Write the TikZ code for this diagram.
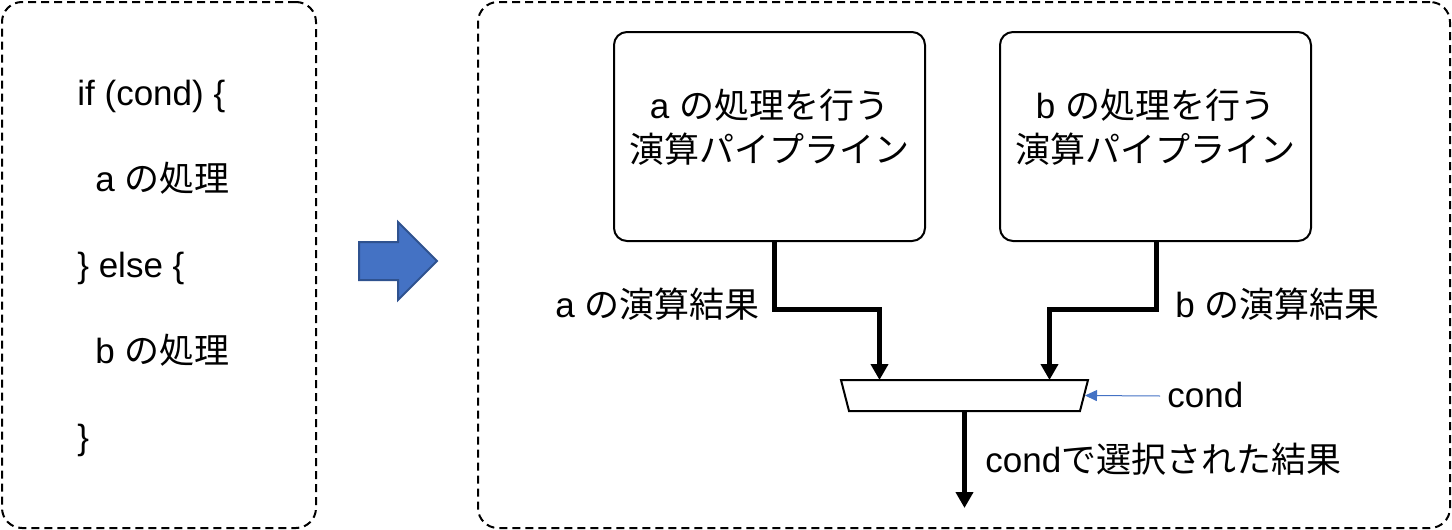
\documentclass[tikz,border=0pt]{standalone}
\usepackage{fontspec}
\setmainfont{Liberation Sans}
\newfontfamily\jpfont{Noto Sans CJK JP}
\newcommand{\J}[1]{{\jpfont #1}}
\usetikzlibrary{arrows.meta}
\definecolor{arrowfill}{HTML}{4472C4}
\definecolor{arrowedge}{HTML}{2F528F}
\begin{document}
\begin{tikzpicture}[x=0.5pt,y=-0.5pt,
  txt/.style={font=\fontsize{17.5}{22}\selectfont, inner sep=0pt},
  frame/.style={draw, dash pattern=on 4pt off 2.5pt, line width=1pt, rounded corners=10pt, minimum height=263pt},
  stage/.style={draw, line width=1pt, rounded corners=6.5pt, minimum width=155.5pt, minimum height=104.5pt},
  flow/.style={line width=2.5pt, -{Triangle[width=8.5pt,length=8pt]}},
  condarrow/.style={draw=arrowfill, line width=0.5pt, -{Triangle[width=5.5pt,length=6pt]}},
  muxbox/.style={draw=none, minimum width=123.5pt, minimum height=15.5pt, inner sep=0pt, outer sep=0pt}
]
\useasboundingbox (0,0) rectangle (1452,530);

% frames
\node[frame, minimum width=157pt] (leftframe) at (159,265) {};
\node[frame, minimum width=486pt] (rightframe) at (964,265) {};

% code
\node[txt, anchor=base west] (l1) at (77,105) {if (cond) \{};
\node[txt, anchor=base west] (l2) at (95,191) {a \J{の処理}};
\node[txt, anchor=base west] (l3) at (77,277) {\} else \{};
\node[txt, anchor=base west] (l4) at (95,363) {b \J{の処理}};
\node[txt, anchor=base west] (l5) at (77,449) {\}};

% block arrow
\filldraw[fill=arrowfill, draw=arrowedge, line width=1pt]
  (359,242) -- (398,242) -- (398,222) -- (437,261) -- (398,300) -- (398,280) -- (359,280) -- cycle;

% pipelines
\node[stage] (pa) at (769.5,136.5) {};
\node[txt, align=center] (pat) at ([yshift=4.5pt]pa.center) {a \J{の処理を行う}\\\J{演算パイプライン}};
\node[stage] (pb) at (1155.5,136.5) {};
\node[txt, align=center] (pbt) at ([yshift=4.5pt]pb.center) {b \J{の処理を行う}\\\J{演算パイプライン}};

% mux
\node[muxbox] (mux) at (964.5,395.5) {};
\draw[line width=1pt, line join=miter] (mux.north west) -- (mux.north east) -- ([xshift=-4pt]mux.south east) -- ([xshift=4pt]mux.south west) -- cycle;

% connectors
\draw[flow] ([xshift=2.5pt]pa.south) -- ++(0,67) -| ([xshift=-42.5pt]mux.north);
\draw[flow] ([xshift=0.5pt]pb.south) -- ++(0,67) -| ([xshift=42.5pt]mux.north);
\coordinate (out) at (964.5,508);
\draw[flow] (mux.south) -- (out);
\coordinate (cin) at (1160,396);
\draw[condarrow] (cin) -- ([xshift=-1.5pt]mux.east);

% labels
\node[txt, anchor=base east] (la) at (760,317) {a \J{の演算結果}};
\node[txt, anchor=base west] (lb) at (1175,317) {b \J{の演算結果}};
\node[txt, anchor=base west] (lc) at (1167,407) {cond};
\node[txt, anchor=base west] (lo) at (985,472) {cond\J{で選択された結果}};
\end{tikzpicture}
\end{document}
